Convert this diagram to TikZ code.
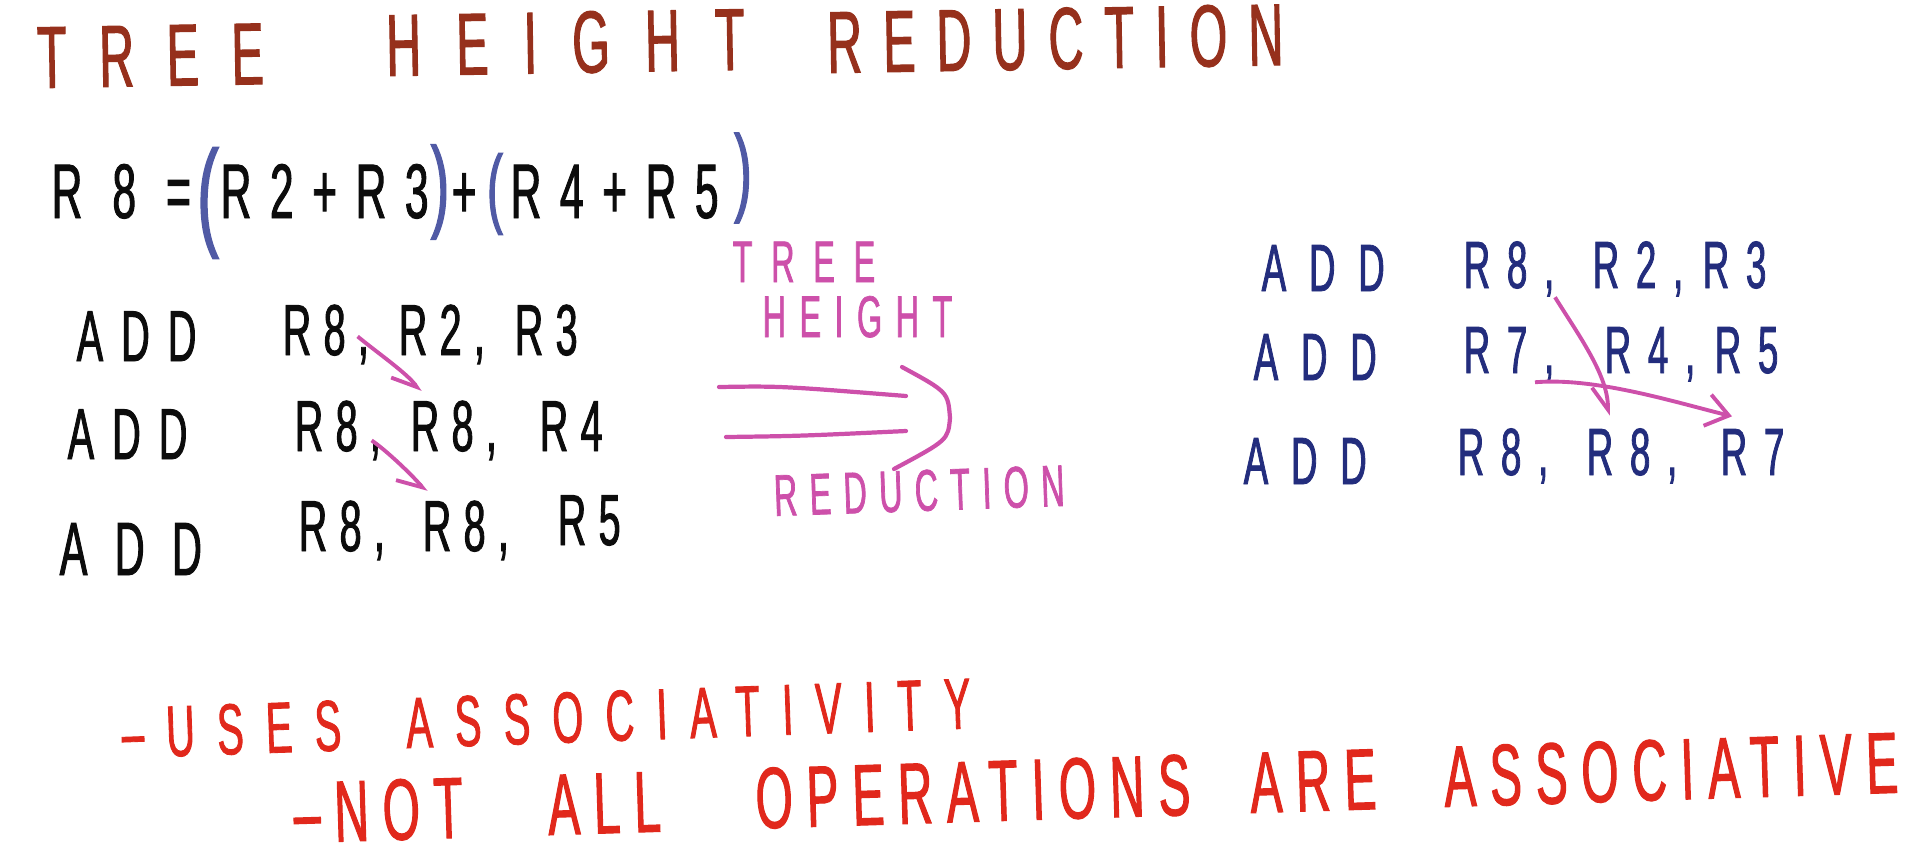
\documentclass[tikz,border=0pt]{standalone}
\usepackage{fontspec}
\usepackage{xcolor}
\usepackage{tikz}
\usetikzlibrary{arrows.meta,positioning,calc}
\newfontfamily\handfont[FakeStretch=0.55, FakeBold=1.2]{Liberation Sans}
\definecolor{chalkbrown}{RGB}{150,48,28}
\definecolor{inkblack}{RGB}{12,12,12}
\definecolor{parenblue}{RGB}{80,90,165}
\definecolor{inkpink}{RGB}{205,80,170}
\definecolor{inknavy}{RGB}{35,45,125}
\definecolor{inkred}{RGB}{225,40,28}
\newcommand{\hand}[2]{\handfont\fontsize{#1}{#1}\selectfont\addfontfeatures{LetterSpace=#2}}

\begin{document}
\begin{tikzpicture}[x=0.01cm, y=-0.01cm,
    word/.style={inner sep=0pt, anchor=base west},
    headline/.style={word, text=chalkbrown, rotate=1},
    sumtext/.style={word, text=inkblack, font=\hand{22pt}{24}},
    paren/.style={inner sep=0pt, text=parenblue},
    asmkey/.style={word, text=inkblack, font=\hand{20.5pt}{25}},
    asmop/.style={word, text=inkblack, font=\hand{20.5pt}{17}},
    optkey/.style={word, text=inknavy, font=\hand{19pt}{34}},
    optop/.style={word, text=inknavy, font=\hand{19pt}{25}},
    notetext/.style={word, text=inkpink},
    remark/.style={word, text=inkred},
    dep/.style={-{Straight Barb[right, length=2.2mm, width=3.2mm]}, line width=1.1pt, draw=inkpink},
    move/.style={-{Straight Barb[length=2.2mm, width=3.2mm]}, line width=1.1pt, draw=inkpink},
    bigarrow/.style={line width=1.2pt, draw=inkpink, line cap=round}
  ]
  \useasboundingbox (0,0) rectangle (1920,866);

  % --- title ---
  \node[headline, font=\hand{25pt}{37}] (ttree)   at (37,88)  {TREE};
  \node[headline, font=\hand{25pt}{40}] (theight) at (386,76) {HEIGHT};
  \node[headline, font=\hand{25pt}{24}] (treduce) at (827,73) {REDUCTION};

  % --- the expression ---
  \node[sumtext]                        (lhs)  at (51,218)  {R\hspace{0.3cm}8\hspace{0.3cm}=};
  \node[paren, font=\hand{34pt}{0}]     (po1)  at (208,203) {(};
  \node[sumtext]                        (sum1) at (220,218) {R2+R3};
  \node[paren, font=\hand{29pt}{0}]     (pc1)  at (440,192) {)};
  \node[sumtext]                        (plus) at (451,218) {+};
  \node[paren, font=\hand{25pt}{0}]     (po2)  at (495,194) {(};
  \node[sumtext]                        (sum2) at (510,218) {R4+R5};
  \node[paren, font=\hand{27.6pt}{0}]   (pc2)  at (743,178) {)};

  % --- serial code ---
  \node[asmkey] (add1) at (76,361) {ADD};
  \node[asmop]  (l1a)  at (282,355) {R8,};
  \node[asmop]  (l1b)  at (398,355) {R2,};
  \node[asmop]  (l1c)  at (514,355) {R3};
  \node[asmkey] (add2) at (67,459) {ADD};
  \node[asmop]  (l2a)  at (294,451) {R8,};
  \node[asmop]  (l2b)  at (410,451) {R8,};
  \node[asmop]  (l2c)  at (539,451) {R4};
  \node[asmkey, font=\hand{21.5pt}{36}] (add3) at (59,575) {ADD};
  \node[asmop]  (l3a)  at (298,551) {R8,};
  \node[asmop]  (l3b)  at (422,551) {R8,};
  \node[asmop]  (l3c)  at (557,545) {R5};

  \draw[dep] ($(l1a.east)+(-12,2)$) .. controls +(18,15) and +(-12,-18) .. ($(l2b.north west)+(10,-8)$);
  \draw[dep] ($(l2a.east)+(-10,10)$) .. controls +(15,10) and +(-12,-15) .. ($(l3b.north west)+(4,-8)$);

  % --- the transformation ---
  \node[notetext, font=\hand{16.7pt}{32}]           (ntree)   at (732,282) {TREE};
  \node[notetext, font=\hand{16.7pt}{23}]           (nheight) at (762,337) {HEIGHT};
  \node[notetext, font=\hand{16.7pt}{21}, rotate=2] (nreduce) at (774,516) {REDUCTION};
  \coordinate (ua) at (719,387);
  \coordinate (ub) at (906,396);
  \coordinate (la) at (726,437);
  \coordinate (lb) at (906,431);
  \coordinate (ha) at (902,367);
  \coordinate (hb) at (950,418);
  \coordinate (hc) at (894,469);
  \draw[bigarrow] (ua) .. controls (780,386) .. (ub);
  \draw[bigarrow] (la) .. controls (800,436) .. (lb);
  \draw[bigarrow] (ha) .. controls (948,392) .. (hb) .. controls (948,440) .. (hc);

  % --- reduced-height code ---
  \node[optkey] (radd1) at (1261,291) {ADD};
  \node[optop]  (r1a)   at (1463,288) {R8,};
  \node[optop]  (r1b)   at (1592,288) {R2,};
  \node[optop]  (r1c)   at (1702,288) {R3};
  \node[optkey] (radd2) at (1253,380) {ADD};
  \node[optop]  (r2a)   at (1463,373) {R7,};
  \node[optop]  (r2b)   at (1604,373) {R4,};
  \node[optop]  (r2c)   at (1714,373) {R5};
  \node[optkey] (radd3) at (1243,484) {ADD};
  \node[optop]  (r3a)   at (1457,475) {R8,};
  \node[optop]  (r3b)   at (1586,475) {R8,};
  \node[optop]  (r3c)   at (1720,475) {R7};

  \draw[dep]  (r1a.south east) .. controls +(25,40) and +(0,-40) .. ($(r3b.north west)+(22,-12)$);
  \draw[move] ($(r2a.south east)+(-20,0)$) .. controls +(60,-5) and +(-60,-15) .. ($(r3c.north west)+(12,-12)$);

  % --- remarks ---
  \node[remark, font=\hand{20.5pt}{31}, rotate=2]   (uses)   at (122,758) {–USES\hspace{0.65cm}ASSOCIATIVITY};
  \node[remark, font=\hand{24.7pt}{16}, rotate=1.8] (notall) at (294,843) {–\hspace{0.14cm}NOT\hspace{0.85cm}ALL\hspace{0.95cm}OPERATIONS\hspace{0.6cm}ARE\hspace{0.68cm}ASSOCIATIVE};
\end{tikzpicture}
\end{document}
